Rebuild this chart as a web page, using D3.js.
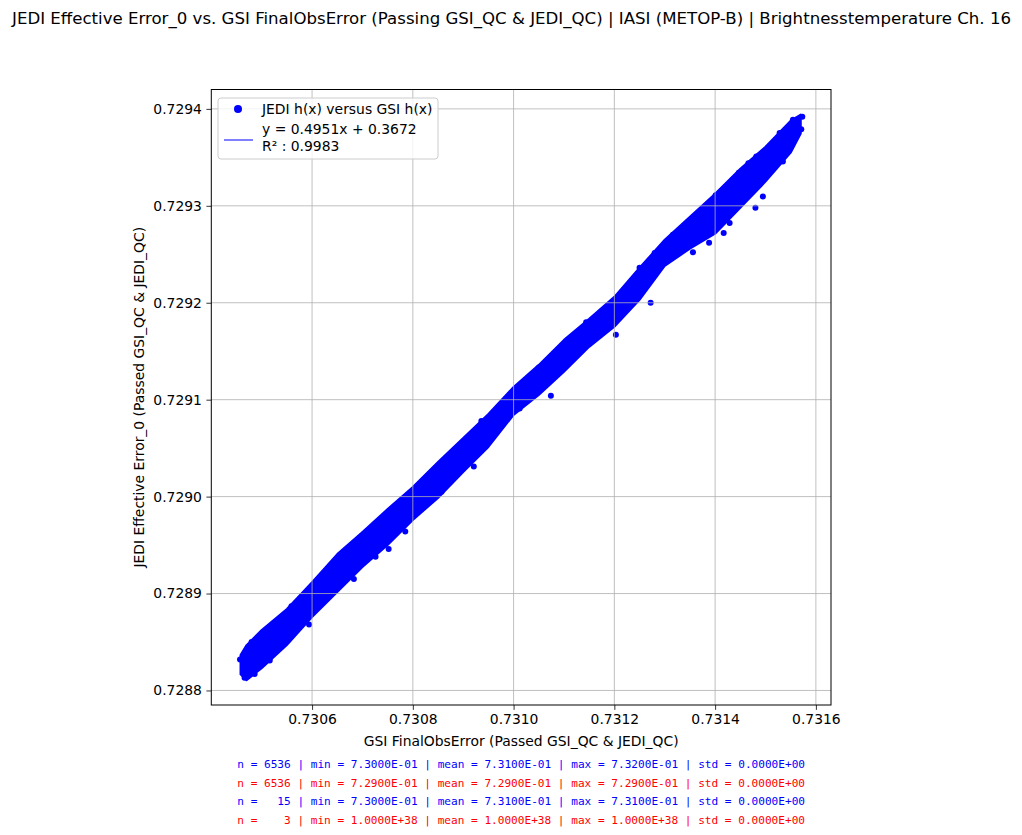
<!DOCTYPE html>
<html lang="en">
<head>
<meta charset="UTF-8">
<title>JEDI vs GSI</title>
<script src="https://d3js.org/d3.v7.min.js"></script>
<style>
  body { margin: 0; background: #fff; }
  svg { display: block; font-family: "DejaVu Sans", sans-serif; }
</style>
</head>
<body>
<script>
// band of the dense scatter: GSI value and the JEDI range covered at that GSI value
const gsiX = [0.730458, 0.73047, 0.73050, 0.73055, 0.73060, 0.73065, 0.73070, 0.73075, 0.73080,
              0.73085, 0.73090, 0.73095, 0.73100, 0.73105, 0.73110, 0.73115, 0.73120,
              0.73125, 0.73130, 0.73135, 0.73140, 0.73145, 0.73150, 0.73155, 0.73157];
const jediTop = [0.7288365, 0.7288468, 0.7288623, 0.7288840, 0.7289118, 0.7289407, 0.7289635, 0.7289872, 0.7290099,
                 0.7290357, 0.7290605, 0.7290853, 0.7291132, 0.7291359, 0.7291617, 0.7291834, 0.7292061,
                 0.7292361, 0.7292650, 0.7292887, 0.7293125, 0.7293383, 0.7293610, 0.7293879, 0.7293941];
const jediBot = [0.7288168, 0.7288106, 0.7288230, 0.7288468, 0.7288757, 0.7289015, 0.7289273, 0.7289500, 0.7289759,
                 0.7289986, 0.7290254, 0.7290512, 0.7290843, 0.7291049, 0.7291287, 0.7291545, 0.7291752,
                 0.7292030, 0.7292381, 0.7292557, 0.7292712, 0.7292980, 0.7293249, 0.7293548, 0.7293745];

// single points on or sticking out of the band edge
const edgeGsi = [0.730457, 0.730466, 0.730486, 0.730516, 0.730552, 0.730480, 0.730594, 0.730683,
                 0.730726, 0.730752, 0.730785, 0.730708, 0.730634, 0.730559, 0.730857, 0.730936,
                 0.730921, 0.731074, 0.731012, 0.731050, 0.731144, 0.731176, 0.731203, 0.731272,
                 0.731250, 0.731356, 0.731320, 0.731371, 0.731388, 0.731417, 0.731401, 0.731480,
                 0.731447, 0.731466, 0.731528, 0.731544, 0.731573, 0.731571,
                 0.7312865, 0.7313262, 0.7313528, 0.7314288, 0.7314948, 0.7315345,
                 0.7312800, 0.7313163, 0.7313494, 0.7314353, 0.7314817, 0.7315544];
const edgeJedi = [0.728832, 0.728813, 0.728817, 0.728831, 0.728852, 0.728850, 0.728868, 0.728915,
                  0.728938, 0.728946, 0.728964, 0.728964, 0.728927, 0.728887, 0.729005, 0.729078,
                  0.729031, 0.729104, 0.729091, 0.729133, 0.729180, 0.729170, 0.729167, 0.729200,
                  0.729236, 0.729252, 0.729269, 0.729290, 0.729262, 0.729272, 0.729311, 0.729298,
                  0.729334, 0.729344, 0.729375, 0.729356, 0.729392, 0.729379,
                  0.7292443, 0.7292581, 0.7292616, 0.7292822, 0.7293097, 0.7293458,
                  0.7292513, 0.7292702, 0.7292839, 0.7293270, 0.7293510, 0.7293889];

// fitted line ends (hidden under the cloud)
const fitX = [0.73047, 0.73157];
const fitY = [0.728830, 0.729384];

const xTicks = [0.7306, 0.7308, 0.7310, 0.7312, 0.7314, 0.7316];
const yTicks = [0.7288, 0.7289, 0.7290, 0.7291, 0.7292, 0.7293, 0.7294];

const statLines = [
  {text: "n = 6536 | min = 7.3000E-01 | mean = 7.3100E-01 | max = 7.3200E-01 | std = 0.0000E+00", color: "#0000ff"},
  {text: "n = 6536 | min = 7.2900E-01 | mean = 7.2900E-01 | max = 7.2900E-01 | std = 0.0000E+00", color: "#ff0000"},
  {text: "n =   15 | min = 7.3000E-01 | mean = 7.3100E-01 | max = 7.3100E-01 | std = 0.0000E+00", color: "#0000ff"},
  {text: "n =    3 | min = 1.0000E+38 | mean = 1.0000E+38 | max = 1.0000E+38 | std = 0.0000E+00", color: "#ff0000"}
];

const W = 1022, H = 835;
const plot = {left: 211.3, right: 831, top: 89.5, bottom: 705};

const svg = d3.select("body").append("svg")
  .attr("width", W).attr("height", H);

const xScale = d3.scaleLinear().domain([0.7304, 0.73163]).range([plot.left, plot.right]);
const yScale = d3.scaleLinear().domain([0.728785, 0.72942]).range([plot.bottom, plot.top]);

// title
svg.append("text")
  .attr("x", W / 2 + 0.5).attr("y", 24)
  .attr("text-anchor", "middle")
  .attr("font-size", 16.6)
  .text("JEDI Effective Error_0 vs. GSI FinalObsError (Passing GSI_QC & JEDI_QC) | IASI (METOP-B) | Brightnesstemperature Ch. 16");

const blue = "#0000ff";

// fit line
svg.append("path")
  .datum(d3.range(fitX.length))
  .attr("fill", "none").attr("stroke", blue).attr("stroke-width", 1)
  .attr("d", d3.line().x(i => xScale(fitX[i])).y(i => yScale(fitY[i])));

// dense part of the scatter
svg.append("path")
  .datum(d3.range(gsiX.length))
  .attr("fill", blue)
  .attr("stroke", blue).attr("stroke-width", 2).attr("stroke-linejoin", "round")
  .attr("d", d3.area()
    .x(i => xScale(gsiX[i]))
    .y0(i => yScale(jediBot[i]))
    .y1(i => yScale(jediTop[i])));

svg.append("g").selectAll("circle")
  .data(d3.range(edgeGsi.length))
  .enter().append("circle")
  .attr("cx", i => xScale(edgeGsi[i]))
  .attr("cy", i => yScale(edgeJedi[i]))
  .attr("r", 3)
  .attr("fill", blue);

// grid (drawn over the points, like the original)
const grid = svg.append("g").attr("stroke", "#b0b0b0").attr("stroke-width", 0.8);
grid.selectAll(".gx").data(xTicks).enter().append("line")
  .attr("x1", d => xScale(d)).attr("x2", d => xScale(d))
  .attr("y1", plot.top).attr("y2", plot.bottom);
grid.selectAll(".gy").data(yTicks).enter().append("line")
  .attr("x1", plot.left).attr("x2", plot.right)
  .attr("y1", d => yScale(d)).attr("y2", d => yScale(d));

// axes
const xAxis = d3.axisBottom(xScale).tickValues(xTicks).tickFormat(d3.format(".4f"))
  .tickSize(4.9).tickPadding(4.5);
svg.append("g").attr("transform", `translate(0,${plot.bottom})`).call(xAxis)
  .call(g => g.select(".domain").remove())
  .call(g => g.selectAll("text").attr("font-size", 13.9).attr("font-family", "DejaVu Sans").attr("fill", "#000"))
  .call(g => g.selectAll("line").attr("stroke", "#000").attr("stroke-width", 0.8));

const yAxis = d3.axisLeft(yScale).tickValues(yTicks).tickFormat(d3.format(".4f"))
  .tickSize(4.9).tickPadding(4.5);
svg.append("g").attr("transform", `translate(${plot.left},0)`).call(yAxis)
  .call(g => g.select(".domain").remove())
  .call(g => g.selectAll("text").attr("font-size", 13.9).attr("font-family", "DejaVu Sans").attr("fill", "#000"))
  .call(g => g.selectAll("line").attr("stroke", "#000").attr("stroke-width", 0.8));

svg.append("rect")
  .attr("x", plot.left).attr("y", plot.top)
  .attr("width", plot.right - plot.left).attr("height", plot.bottom - plot.top)
  .attr("fill", "none").attr("stroke", "#000").attr("stroke-width", 1);

// axis labels
svg.append("text")
  .attr("x", (plot.left + plot.right) / 2).attr("y", 746)
  .attr("text-anchor", "middle").attr("font-size", 13.9)
  .text("GSI FinalObsError (Passed GSI_QC & JEDI_QC)");

svg.append("text")
  .attr("transform", `translate(144,${(plot.top + plot.bottom) / 2}) rotate(-90)`)
  .attr("text-anchor", "middle").attr("font-size", 13.9)
  .text("JEDI Effective Error_0 (Passed GSI_QC & JEDI_QC)");

// legend
const leg = svg.append("g");
leg.append("rect")
  .attr("x", 218).attr("y", 98).attr("width", 220).attr("height", 61)
  .attr("rx", 3).attr("fill", "#fff").attr("fill-opacity", 0.8)
  .attr("stroke", "#cccccc").attr("stroke-width", 1);
leg.append("circle").attr("cx", 238).attr("cy", 109).attr("r", 4).attr("fill", blue);
leg.append("line").attr("x1", 224).attr("x2", 253).attr("y1", 140).attr("y2", 140)
  .attr("stroke", blue).attr("stroke-width", 1);
leg.append("text").attr("x", 262).attr("y", 114).attr("font-size", 13.9).text("JEDI h(x) versus GSI h(x)");
leg.append("text").attr("x", 262).attr("y", 134).attr("font-size", 13.9).text("y = 0.4951x + 0.3672");
leg.append("text").attr("x", 262).attr("y", 151).attr("font-size", 13.9).text("R\u00b2 : 0.9983");

// stats under the plot
svg.append("g").selectAll("text")
  .data(statLines).enter().append("text")
  .attr("x", (plot.left + plot.right) / 2)
  .attr("y", (d, i) => 768 + i * 18.6)
  .attr("text-anchor", "middle")
  .attr("font-family", "DejaVu Sans Mono")
  .attr("font-size", 11.1)
  .attr("fill", d => d.color)
  .attr("xml:space", "preserve")
  .style("white-space", "pre")
  .text(d => d.text);
</script>
</body>
</html>
